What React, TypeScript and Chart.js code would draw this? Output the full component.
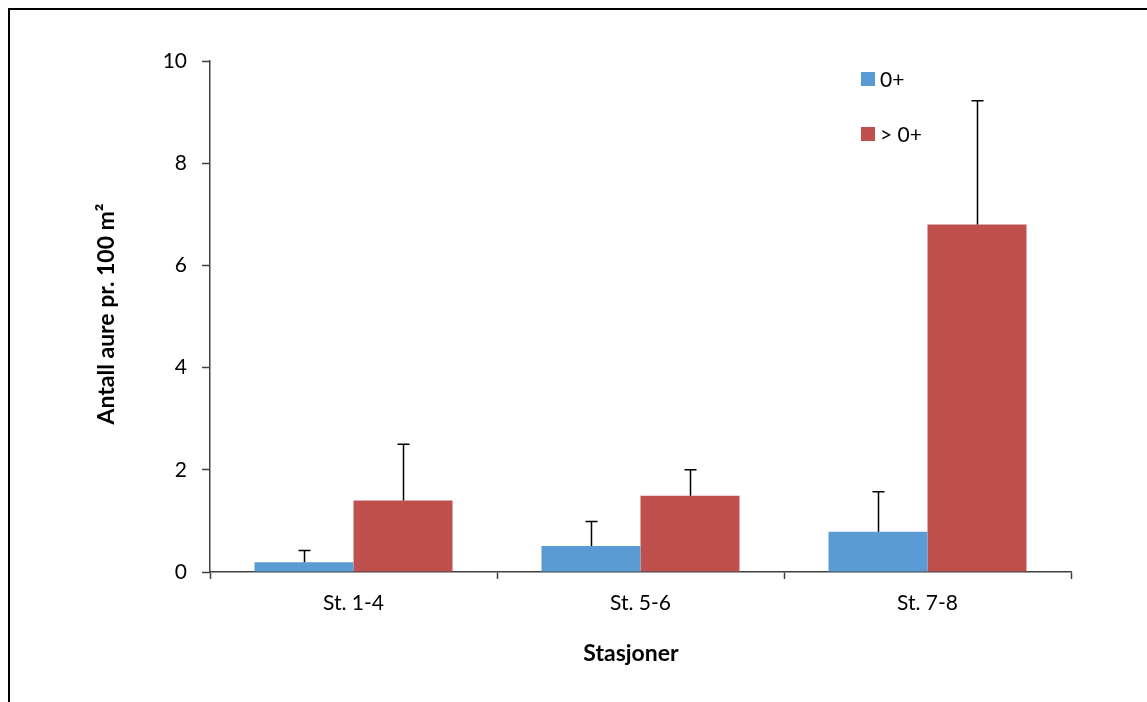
import React, { useEffect, useRef } from "react";
import { Chart, registerables } from "chart.js";

Chart.register(...registerables);

const categories = ["St. 1-4", "St. 5-6", "St. 7-8"];
const seriesNames = ["0+", "> 0+"];
const youngValues = [0.19, 0.51, 0.79];
const youngErrors = [0.23, 0.48, 0.78];
const olderValues = [1.4, 1.49, 6.8];
const olderErrors = [1.1, 0.51, 2.42];
const yTicks = [0, 2, 4, 6, 8, 10];
const xTitle = "Stasjoner";
const yTitle = "Antall aure pr. 100 m\u00B2";

const BLUE = "#5B9BD5";
const RED = "#C0504D";
const AXIS = "#404040";
const FONT = "Lato, 'Open Sans', sans-serif";

const errorBars = {
  id: "errorBars",
  afterDatasetsDraw(chart: any) {
    const { ctx } = chart;
    const yScale = chart.scales.y;
    chart.data.datasets.forEach((ds: any, di: number) => {
      const meta = chart.getDatasetMeta(di);
      meta.data.forEach((el: any, i: number) => {
        const v = ds.data[i];
        const e = ds.errors[i];
        const yTop = yScale.getPixelForValue(v + e);
        const x = Math.round(el.x) + 0.5;
        ctx.save();
        ctx.strokeStyle = "#000";
        ctx.lineWidth = 1.5;
        ctx.beginPath();
        ctx.moveTo(x, el.y);
        ctx.lineTo(x, yTop);
        ctx.moveTo(x - 6, yTop);
        ctx.lineTo(x + 6, yTop);
        ctx.stroke();
        ctx.restore();
      });
    });
  },
};

const customLegend = {
  id: "customLegend",
  afterDraw(chart: any) {
    const { ctx } = chart;
    const items = [
      { label: seriesNames[0], color: BLUE, y: 79 },
      { label: seriesNames[1], color: RED, y: 134 },
    ];
    ctx.save();
    ctx.font = `21px ${FONT}`;
    ctx.textBaseline = "middle";
    ctx.textAlign = "left";
    items.forEach((it) => {
      ctx.fillStyle = it.color;
      ctx.fillRect(861, it.y - 7, 14, 14);
      ctx.fillStyle = "#000";
      ctx.fillText(it.label, 880, it.y + 1);
    });
    ctx.restore();
  },
};

const axisTitles = {
  id: "axisTitles",
  afterDraw(chart: any) {
    const { ctx } = chart;
    ctx.save();
    ctx.fillStyle = "#000";
    ctx.font = `bold 23px ${FONT}`;
    ctx.textAlign = "center";
    ctx.textBaseline = "alphabetic";
    ctx.fillText(xTitle, 631, 661);
    ctx.translate(114, 314);
    ctx.rotate(-Math.PI / 2);
    ctx.fillText(yTitle, 0, 0);
    ctx.restore();
  },
};

export default function App() {
  const ref = useRef<HTMLCanvasElement | null>(null);
  useEffect(() => {
    if (!ref.current) return;
    const chart = new Chart(ref.current, {
      type: "bar",
      data: {
        labels: categories,
        datasets: [
          {
            label: seriesNames[0],
            data: youngValues,
            errors: youngErrors,
            backgroundColor: BLUE,
            borderWidth: 0,
            categoryPercentage: 0.69,
            barPercentage: 1.0,
          } as any,
          {
            label: seriesNames[1],
            data: olderValues,
            errors: olderErrors,
            backgroundColor: RED,
            borderWidth: 0,
            categoryPercentage: 0.69,
            barPercentage: 1.0,
          } as any,
        ],
      },
      options: {
        animation: false,
        responsive: false,
        maintainAspectRatio: false,
        layout: { padding: { top: 61, right: 76, bottom: 0, left: 0 } },
        plugins: {
          legend: { display: false },
          tooltip: { enabled: false },
        },
        scales: {
          x: {
            border: { display: true, color: AXIS, width: 1.5 },
            grid: {
              display: true,
              drawOnChartArea: false,
              drawTicks: true,
              tickLength: 7,
              tickColor: AXIS,
              tickWidth: 1.5,
              offset: true,
            },
            ticks: {
              color: "#000",
              font: { family: FONT, size: 21 },
              padding: 12,
            },
            afterFit(scale: any) {
              scale.height = 130;
            },
          },
          y: {
            min: 0,
            max: 10,
            afterBuildTicks(scale: any) {
              scale.ticks = yTicks.map((v) => ({ value: v }));
            },
            border: { display: true, color: AXIS, width: 1.5 },
            grid: {
              display: true,
              drawOnChartArea: false,
              drawTicks: true,
              tickLength: 8,
              tickColor: AXIS,
              tickWidth: 1.5,
            },
            ticks: {
              color: "#000",
              font: { family: FONT, size: 21 },
              padding: 15,
            },
            afterFit(scale: any) {
              scale.width = 210;
            },
          },
        },
      } as any,
      plugins: [errorBars, customLegend, axisTitles],
    });
    return () => chart.destroy();
  }, []);

  return (
    <div
      style={{
        position: "fixed",
        left: 0,
        top: 0,
        width: 1147,
        height: 702,
        overflow: "hidden",
        background: "#fff",
      }}
    >
      <div
        style={{
          position: "absolute",
          left: 8,
          top: 8,
          width: 1300,
          height: 900,
          border: "2px solid #000",
        }}
      />
      <canvas
        ref={ref}
        width={1147}
        height={702}
        style={{ position: "absolute", left: 0, top: 0, width: 1147, height: 702 }}
      />
    </div>
  );
}
